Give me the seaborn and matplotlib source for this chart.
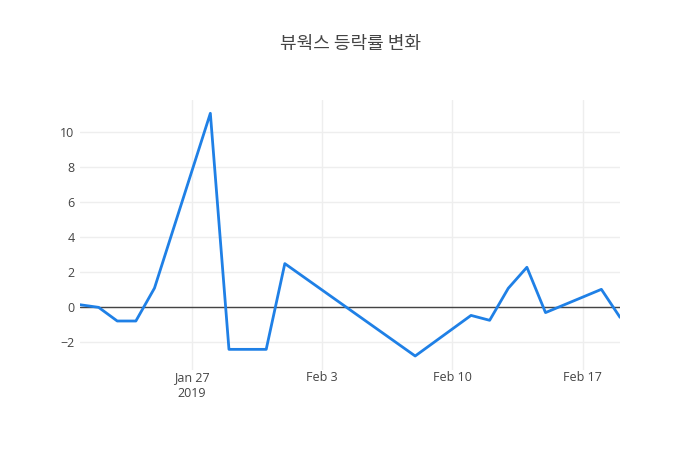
import numpy as np
import pandas as pd
import matplotlib
matplotlib.use("Agg")
import matplotlib.pyplot as plt
import seaborn as sns

# ===============================
# Data
# ===============================
dates = ["2019-01-21", "2019-01-22", "2019-01-23", "2019-01-24", "2019-01-25",
         "2019-01-28", "2019-01-29", "2019-01-31", "2019-02-01", "2019-02-08",
         "2019-02-11", "2019-02-12", "2019-02-13", "2019-02-14", "2019-02-15",
         "2019-02-18", "2019-02-19"]
rates = [0.15, 0.0, -0.78, -0.78, 1.10,
         11.09, -2.40, -2.40, 2.50, -2.78,
         -0.46, -0.74, 1.09, 2.29, -0.30,
         1.03, -0.57]

title = "뷰웍스 등락률 변화"
y_ticks = [-2, 0, 2, 4, 6, 8, 10]
x_ticks = ["2019-01-27", "2019-02-03", "2019-02-10", "2019-02-17"]
x_tick_labels = ["Jan 27\n2019", "Feb 3", "Feb 10", "Feb 17"]

df = pd.DataFrame({"date": pd.to_datetime(dates), "rate": rates})

# ===============================
# Style
# ===============================
sns.set_style("white")
plt.rcParams["font.family"] = ["Open Sans", "Noto Sans CJK KR", "DejaVu Sans"]
plt.rcParams["axes.unicode_minus"] = True

fig = plt.figure(figsize=(7, 4.5), dpi=100)
ax = fig.add_axes([80 / 700, 80 / 450, 540 / 700, 270 / 450])

sns.lineplot(data=df, x="date", y="rate", ax=ax, color="#1f80e6", linewidth=2)

ax.set_xlim(pd.Timestamp("2019-01-21"), pd.Timestamp("2019-02-19"))
ax.set_ylim(-3.58, 11.85)

ax.set_yticks(y_ticks)
ax.set_yticklabels([str(t).replace("-", "\u2212") for t in y_ticks])
ax.set_xticks(pd.to_datetime(x_ticks))
ax.set_xticklabels(x_tick_labels, linespacing=1.25)

ax.grid(True, color="#eeeeee", linewidth=1)
ax.set_axisbelow(True)
ax.axhline(0, color="#444444", linewidth=1, zorder=1.5)

for s in ax.spines.values():
    s.set_visible(False)
ax.tick_params(axis="both", length=0, labelsize=9, labelcolor="#444444")
ax.tick_params(axis="y", pad=4)
ax.tick_params(axis="x", pad=1)
ax.set_xlabel("")
ax.set_ylabel("")

fig.text(0.5, 1 - 44 / 450, title, ha="center", va="center", fontsize=13,
         color="#444444", family=["Noto Sans CJK KR", "DejaVu Sans"])

fig.savefig("out.png", dpi=100)
